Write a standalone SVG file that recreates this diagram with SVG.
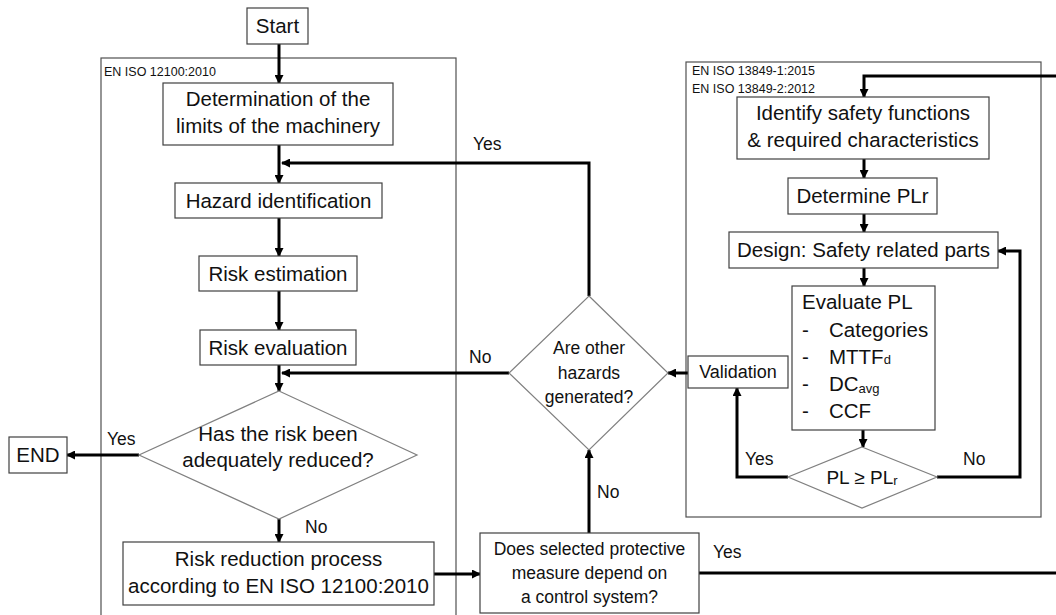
<svg xmlns="http://www.w3.org/2000/svg" width="1056" height="615" viewBox="0 0 1056 615">
  <style>
    .box { fill: #ffffff; stroke: #404040; stroke-width: 1.2; }
    .dia { fill: #ffffff; stroke: #808080; stroke-width: 1.2; }
    .frame { fill: none; stroke: #505050; stroke-width: 1.2; }
    .wire { fill: none; stroke: #000000; stroke-width: 3; }
    text { font-family: "Liberation Sans", Arial, sans-serif; fill: #111111; }
    .t20 { font-size: 20.5px; text-anchor: middle; }
    .t17 { font-size: 17.5px; text-anchor: middle; }
    .lbl { font-size: 17.5px; }
    .std { font-size: 12.5px; }
    .sub { font-size: 13px; }
    .item { font-size: 20.5px; }
  </style>
  <defs>
    <marker id="arrow" markerUnits="userSpaceOnUse" markerWidth="9" markerHeight="9" refX="8" refY="4.5" orient="auto">
      <path d="M0,0 L9,4.5 L0,9 z" fill="#000000"/>
    </marker>
  </defs>

  <rect width="1056" height="615" fill="#ffffff"/>

  <!-- standard scope frames -->
  <g id="frame-12100">
    <rect class="frame" x="101" y="58" width="355" height="570"/>
    <text class="std" x="104" y="76">EN ISO 12100:2010</text>
  </g>
  <g id="frame-13849">
    <rect class="frame" x="686" y="62" width="355" height="455"/>
    <text class="std" x="692" y="75">EN ISO 13849-1:2015</text>
    <text class="std" x="692" y="93">EN ISO 13849-2:2012</text>
  </g>

  <!-- connectors -->
  <g id="connectors" class="wire" marker-end="url(#arrow)">
    <path d="M279,44 V83"/>
    <path d="M279,145 V183"/>
    <path d="M589,296 V163 H282"/>
    <path d="M279,218 V256"/>
    <path d="M279,291 V330"/>
    <path d="M279,365 V391"/>
    <path d="M509,373 H282"/>
    <path d="M139,455 H67"/>
    <path d="M279,519 V542"/>
    <path d="M434,574 H480"/>
    <path d="M589,533 V450"/>
    <path d="M688,373 H668"/>
    <path d="M699,573 H1060" marker-end="none"/>
    <path d="M1060,76 H864 V97"/>
    <path d="M864,159 V178"/>
    <path d="M864,214 V232"/>
    <path d="M864,268 V286"/>
    <path d="M863,430 V447"/>
    <path d="M937,477 H1020 V251 H998"/>
    <path d="M788,477 H737 V388"/>
  </g>

  <!-- connector labels -->
  <g id="labels">
    <text class="lbl" x="473" y="150">Yes</text>
    <text class="lbl" x="469" y="363">No</text>
    <text class="lbl" x="107" y="445">Yes</text>
    <text class="lbl" x="305" y="533">No</text>
    <text class="lbl" x="597" y="498">No</text>
    <text class="lbl" x="745" y="465">Yes</text>
    <text class="lbl" x="963" y="465">No</text>
    <text class="lbl" x="713" y="558">Yes</text>
  </g>

  <!-- EN ISO 12100 process -->
  <g id="start">
    <rect class="box" x="247" y="8" width="61" height="36"/>
    <text class="t20" x="277.5" y="33">Start</text>
  </g>
  <g id="limits">
    <rect class="box" x="163" y="83" width="230" height="62"/>
    <text class="t20" x="278" y="106">Determination of the</text>
    <text class="t20" x="278" y="133">limits of the machinery</text>
  </g>
  <g id="hazard-identification">
    <rect class="box" x="175" y="183" width="207" height="35"/>
    <text class="t20" x="278.5" y="208">Hazard identification</text>
  </g>
  <g id="risk-estimation">
    <rect class="box" x="199" y="256" width="158" height="35"/>
    <text class="t20" x="278" y="281">Risk estimation</text>
  </g>
  <g id="risk-evaluation">
    <rect class="box" x="200" y="330" width="156" height="35"/>
    <text class="t20" x="278" y="355">Risk evaluation</text>
  </g>
  <g id="risk-reduced">
    <polygon class="dia" points="279,391 417,455 279,519 139,455"/>
    <text class="t20" x="278" y="441">Has the risk been</text>
    <text class="t20" x="278" y="467">adequately reduced?</text>
  </g>
  <g id="end">
    <rect class="box" x="9" y="437" width="58" height="36"/>
    <text class="t20" x="38" y="462">END</text>
  </g>
  <g id="risk-reduction">
    <rect class="box" x="123" y="542" width="311" height="63"/>
    <text class="t20" x="278.5" y="566">Risk reduction process</text>
    <text class="t20" x="278.5" y="593">according to EN ISO 12100:2010</text>
  </g>

  <!-- decisions between the standards -->
  <g id="control-system">
    <rect class="box" x="480" y="533" width="219" height="80"/>
    <text class="t17" x="589.5" y="555">Does selected protective</text>
    <text class="t17" x="589.5" y="579">measure depend on</text>
    <text class="t17" x="589.5" y="603">a control system?</text>
  </g>
  <g id="other-hazards">
    <polygon class="dia" points="589,296 668,373 589,450 509,373"/>
    <text class="t17" x="589" y="354">Are other</text>
    <text class="t17" x="589" y="379">hazards</text>
    <text class="t17" x="589" y="403">generated?</text>
  </g>

  <!-- EN ISO 13849 process -->
  <g id="validation">
    <rect class="box" x="688" y="356" width="100" height="32"/>
    <text class="t17" x="738" y="378" style="font-size:18px">Validation</text>
  </g>
  <g id="safety-functions">
    <rect class="box" x="737" y="97" width="252" height="62"/>
    <text class="t20" x="863" y="120">Identify safety functions</text>
    <text class="t20" x="863" y="147">&amp; required characteristics</text>
  </g>
  <g id="determine-plr">
    <rect class="box" x="788" y="178" width="149" height="36"/>
    <text class="t20" x="862.5" y="203">Determine PLr</text>
  </g>
  <g id="design">
    <rect class="box" x="729" y="232" width="269" height="36"/>
    <text class="t20" x="863.5" y="257">Design: Safety related parts</text>
  </g>
  <g id="evaluate-pl">
    <rect class="box" x="792" y="286" width="143" height="144"/>
    <text class="item" x="802" y="309">Evaluate PL</text>
    <text class="item" x="802" y="337">-</text>
    <text class="item" x="829" y="337">Categories</text>
    <text class="item" x="802" y="364">-</text>
    <text class="item" x="829" y="364">MTTF<tspan class="sub">d</tspan></text>
    <text class="item" x="802" y="391">-</text>
    <text class="item" x="829" y="391">DC<tspan class="sub" dy="2">avg</tspan></text>
    <text class="item" x="802" y="418">-</text>
    <text class="item" x="829" y="418">CCF</text>
  </g>
  <g id="pl-check">
    <polygon class="dia" points="862,447 937,477 862,508 788,477"/>
    <text class="t17" x="862" y="484" style="font-size:19px">PL ≥ PL<tspan class="sub" dy="1">r</tspan></text>
  </g>
</svg>
